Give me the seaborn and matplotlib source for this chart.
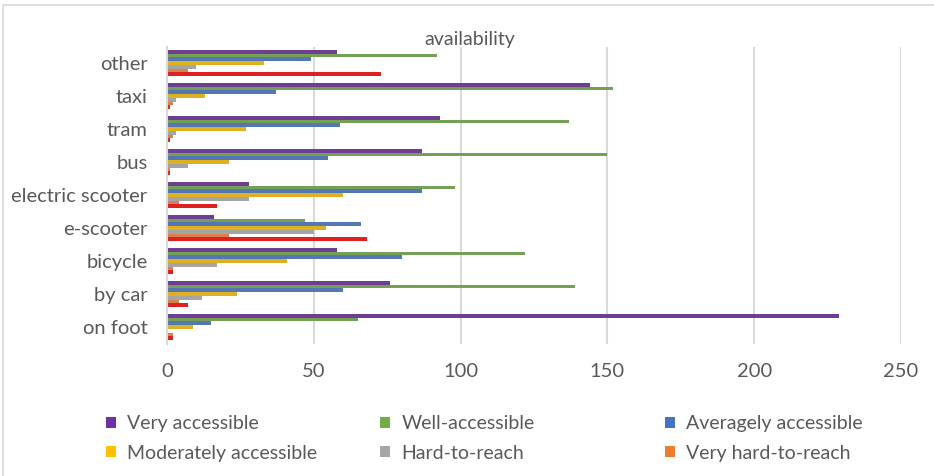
import numpy as np
import pandas as pd
import matplotlib
matplotlib.use("Agg")
import matplotlib.pyplot as plt
from matplotlib.patches import Rectangle, Patch
import seaborn as sns

# Modes of transport, listed top to bottom
modes = ["other", "taxi", "tram", "bus", "electric scooter",
         "e-scooter", "bicycle", "by car", "on foot"]

# Rating levels; the last one is drawn without a legend entry
levels = ["Very accessible", "Well-accessible", "Averagely accessible",
          "Moderately accessible", "Hard-to-reach", "Very hard-to-reach",
          "Inaccessible"]

very_accessible     = [58, 144, 93, 87, 28, 16, 58, 76, 229]
well_accessible     = [92, 152, 137, 150, 98, 47, 122, 139, 65]
averagely_accessible = [49, 37, 59, 55, 87, 66, 80, 60, 15]
moderately_accessible = [33, 13, 27, 21, 60, 54, 41, 24, 9]
hard_to_reach       = [10, 3, 3, 7, 28, 50, 17, 12, 0]
very_hard_to_reach  = [7, 2, 2, 1, 4, 21, 2, 4, 2]
inaccessible        = [73, 1, 1, 1, 17, 68, 2, 7, 2]

series = [very_accessible, well_accessible, averagely_accessible,
          moderately_accessible, hard_to_reach, very_hard_to_reach,
          inaccessible]

colors = ["#7030A0", "#70AD47", "#4472C4", "#FFC000", "#A5A5A5",
          "#ED7D31", "#FF0000"]

x_ticks = [0, 50, 100, 150, 200, 250]

rows = []
for lvl, vals in zip(levels, series):
    for m, v in zip(modes, vals):
        rows.append({"mode": m, "level": lvl, "count": v})
df = pd.DataFrame(rows)

sns.set_theme(style="white")
plt.rcParams["font.family"] = ["Lato", "DejaVu Sans"]
text_color = "#595959"

W, H = 934, 476
fig = plt.figure(figsize=(W / 100, H / 100), dpi=100)

# outer chart frame
fig.patches.append(Rectangle((3 / W, -0.01), 1.0, 1 - 5 / H + 0.01,
                             transform=fig.transFigure, fill=False,
                             edgecolor="#D9D9D9", linewidth=1.2))

ax_left, ax_right = 167 / W, 901 / W
ax_top, ax_bottom = 1 - 46.5 / H, 1 - 343.5 / H
ax = fig.add_axes([ax_left, ax_bottom, ax_right - ax_left, ax_top - ax_bottom])

sns.barplot(data=df, y="mode", x="count", hue="level", order=modes,
            hue_order=levels, palette=colors, orient="h", width=0.79,
            linewidth=0, ax=ax, legend=False)

ax.set_xlim(0, 250)
ax.set_xticks(x_ticks)
ax.set_xticklabels([str(t) for t in x_ticks], fontsize=14.5, color=text_color)
ax.tick_params(axis="x", length=0, pad=14)
ax.tick_params(axis="y", length=0, pad=14, labelsize=14.5, labelcolor=text_color)
ax.set_xlabel("")
ax.set_ylabel("")
ax.grid(axis="x", color="#D9D9D9", linewidth=1.5)
ax.set_axisbelow(True)
for s in ["top", "right", "bottom"]:
    ax.spines[s].set_visible(False)
ax.spines["left"].set_color("#D9D9D9")
ax.spines["left"].set_linewidth(1.5)

fig.text(470 / W, 1 - 39 / H, "availability", ha="center", va="center",
         fontsize=14, color=text_color)

# legend: three equal-width columns, two rows
col_x = [106, 380, 665]
row_pairs = [(0, 3), (1, 4), (2, 5)]
for cx, pair in zip(col_x, row_pairs):
    handles = [Patch(facecolor=colors[i], edgecolor="none") for i in pair]
    labels = [levels[i] for i in pair]
    fig.legend(handles, labels, loc="upper left",
               bbox_to_anchor=(cx / W, 1 - 415 / H),
               bbox_transform=fig.transFigure, frameon=False,
               fontsize=14, labelcolor=text_color, handlelength=0.5,
               handleheight=0.5, handletextpad=0.6, labelspacing=0.65,
               borderaxespad=0, borderpad=0)

fig.savefig("out.png", dpi=100)
